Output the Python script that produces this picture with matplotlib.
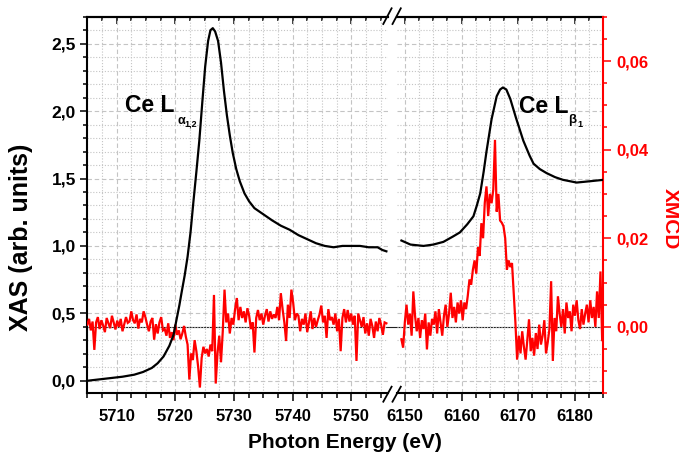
import numpy as np
import matplotlib
matplotlib.use("Agg")
import matplotlib.pyplot as plt
from matplotlib.ticker import MultipleLocator, FuncFormatter
from matplotlib.lines import Line2D

plt.rcParams['font.family'] = ['Liberation Sans', 'DejaVu Sans']
plt.rcParams['font.weight'] = 'bold'

# ---------------- data ----------------
# XAS, Ce L-alpha(1,2) region
xas_la_energy = [5705, 5707, 5709, 5711, 5713, 5714.5, 5716, 5717, 5718, 5719,
                 5719.7, 5720.2, 5720.7, 5721.1, 5721.6, 5722.1, 5722.6, 5723.1, 5723.6, 5724.1,
                 5724.6, 5725.1, 5725.6, 5726.0, 5726.4, 5726.8, 5727.3, 5727.8, 5728.3, 5728.8,
                 5729.3, 5729.8, 5730.4, 5731.0, 5731.8, 5732.6, 5733.5, 5734.5, 5735.5, 5736.5,
                 5738.0, 5739.5, 5741.0, 5742.5, 5744.0, 5745.5, 5747.0, 5748.5, 5750.0, 5751.5,
                 5753.0, 5754.5, 5755.3, 5756.0]
xas_la_value = [0.00, 0.01, 0.02, 0.03, 0.045, 0.065, 0.095, 0.13, 0.18, 0.26,
                0.34, 0.45, 0.56, 0.66, 0.78, 0.92, 1.10, 1.33, 1.55, 1.78,
                2.06, 2.33, 2.52, 2.60, 2.615, 2.59, 2.52, 2.36, 2.15, 1.97,
                1.82, 1.69, 1.57, 1.48, 1.39, 1.33, 1.28, 1.25, 1.22, 1.19,
                1.15, 1.12, 1.08, 1.05, 1.02, 1.00, 0.99, 1.00, 1.00, 1.00,
                0.99, 0.99, 0.97, 0.96]

# XAS, Ce L-beta(1) region
xas_lb_energy = [6149.4, 6151.0, 6153.3, 6155.0, 6156.8, 6158.5, 6159.7, 6161.0, 6162.1, 6162.7,
                 6163.3, 6163.9, 6164.4, 6165.3, 6166.2, 6166.8, 6167.3, 6167.9, 6168.6, 6169.6,
                 6170.9, 6172.0, 6172.7, 6173.8, 6175.0, 6176.5, 6177.9, 6180.3, 6182.7, 6185.0]
xas_lb_value = [1.04, 1.01, 1.00, 1.01, 1.03, 1.07, 1.10, 1.16, 1.22, 1.30,
                1.39, 1.55, 1.70, 1.94, 2.11, 2.16, 2.175, 2.16, 2.09, 1.95,
                1.78, 1.67, 1.61, 1.57, 1.54, 1.51, 1.49, 1.47, 1.48, 1.49]

# XMCD, sampled every 0.3 eV, values in units of 1e-4
xmcd_step = 0.3
xmcd_la_start = 5705.0
xmcd_la_1e4 = [5, 18, -8, 12, -52, 10, 22, -5, 15, 3, -12, 20, 8, -3, 25, 10, -6, 14, 0, 18, -10, 6, 22, 9,
               12, 35, 15, 8, 28, -4, 18, 10, 35, 22, 5, -10, 12, 20, -29, 6, -15, 10, 22, -8,
               -5, -20, 8, -25, -12, -30, 5, -18, -8, -28, -15, 2, -22,
               -40, -119, -60, -75, -30, -55, -90, -137, -70,
               -45, -60, -50, -67, -40, -55, 72, -128,
               -60, -20, -80, -10, 84, 10, 30, -15, 20, 5,
               40, 65, 15, 45, 20, 35, 10, 42, 25, -5,
               10, -58, 20, 38, 15, 30, 5, 25, 40, 12, 35, 18, 28,
               20, 45, 15, 76, 40, 10, -32, 50, 20, 84, 55, 15, 30,
               25, -10, 18, 5, 30, -12, 10, 35, -5, 20, 0, 15, 28,
               48, 10, 25, -25, 40, 15, 22, 5, 30, -10, 18, -55, 20,
               40, 10, 38, 12, 30, 5, 25, -77, 30, 15, 0, 22, -15, 8, -20, 18, 2, -25, 12, -10,
               20, 5, -18, 10, 8]
xmcd_lb_start = 6149.4
xmcd_lb_1e4 = [-28, -47, 10, 50, 5, 30, -20, 80, 25,
               -10, 20, -25, 15, -5, 30, -51, 10, -20, 18,
               5, 35, -15, 40, 10, -20, 25, 50, 0, 30,
               77, 20, 45, 10, 55, 30, 60, 15, 55, 40,
               70, 107, 95, 129, 150, 120, 180, 160, 234, 200,
               280, 317, 250, 300, 279, 310, 422, 260, 300, 240,
               235, 227, 200, 129, 150, 135, 144, 77, 10, -74,
               -20, -60, -10, -45, -74, -30, 17, -55, -25, -65,
               -14, -50, 5, -40, -20, 15, -60, -35, -5, 103,
               -77, 20, -10, 69, 30, 0, 40, -15, 55, 20,
               35, -10, 50, 25, 60, 15, -5, 40, 5, 30,
               50, 10, 60, 20, 45, 0, 80, 20, 125, -30]

x_range_left = (5705.0, 5756.19)
x_range_right = (6148.55, 6185.0)
xas_range = (-0.093, 2.70)
xmcd_range = (-0.015, 0.07)

xmcd_la_energy = xmcd_la_start + xmcd_step * np.arange(len(xmcd_la_1e4))
xmcd_lb_energy = xmcd_lb_start + xmcd_step * np.arange(len(xmcd_lb_1e4))
xmcd_la = np.array(xmcd_la_1e4) * 1e-4
xmcd_lb = np.array(xmcd_lb_1e4) * 1e-4

# ---------------- layout ----------------
W, H = 679, 459
fig = plt.figure(figsize=(W / 100, H / 100), dpi=100)
fig.patch.set_facecolor('white')


def fx(px):
    return px / W


def fy(py):
    return 1 - py / H


L, R, T, B = 87.3, 603.3, 16.7, 393.3
BRK1, BRK2 = 387.5, 396.6
RED = '#ff0000'
GRID = '#c4c4c4'
SPW = 1.5

ax1 = fig.add_axes([fx(L), fy(B), fx(BRK1 - L), (B - T) / H])
ax2 = fig.add_axes([fx(BRK2), fy(B), fx(R - BRK2), (B - T) / H])

comma1 = FuncFormatter(lambda v, p: f"{v:.1f}".replace('.', ','))
comma2 = FuncFormatter(lambda v, p: f"{v:.2f}".replace('.', ','))

# twins: red XMCD (middle layer) and black XAS (top layer)
ax1r = ax1.twinx()
ax1k = ax1.twinx()
ax2r = ax2.twinx()
ax2k = ax2.twinx()

for ax, xr in ((ax1, x_range_left), (ax2, x_range_right)):
    ax.set_xlim(*xr)
    ax.set_ylim(*xas_range)
    ax.patch.set_visible(False)
    ax.xaxis.set_major_locator(MultipleLocator(10))
    ax.xaxis.set_minor_locator(MultipleLocator(2.5))
    ax.yaxis.set_major_locator(MultipleLocator(0.5))
    ax.yaxis.set_minor_locator(MultipleLocator(0.1))
    ax.yaxis.set_major_formatter(comma1)
    ax.grid(which='major', color=GRID, ls=(0, (4, 2.5)), lw=0.8)
    ax.grid(which='minor', color=GRID, ls=(0, (1, 1.6)), lw=0.8)
    ax.tick_params(axis='x', which='major', direction='out', length=6, width=1.1,
                   labelsize=12, pad=5.5)
    ax.tick_params(axis='x', which='minor', direction='out', length=3.6, width=1.1)
    ax.tick_params(axis='y', which='major', direction='out', length=4.8, width=1.1,
                   labelsize=12.5, pad=3.5)
    ax.tick_params(axis='y', which='minor', direction='out', length=3.2, width=1.1)
    for s in ax.spines.values():
        s.set_linewidth(SPW)
    sec = ax.secondary_xaxis('top')
    sec.xaxis.set_major_locator(MultipleLocator(10))
    sec.xaxis.set_minor_locator(MultipleLocator(2.5))
    sec.tick_params(which='major', direction='in', length=5, width=1.1, labeltop=False)
    sec.tick_params(which='minor', direction='in', length=3.2, width=1.1)
    sec.spines['top'].set_linewidth(SPW)

ax1.spines['right'].set_visible(False)
ax1.tick_params(axis='y', which='both', right=False, labelright=False)
ax2.spines['left'].set_visible(False)
ax2.spines['right'].set_visible(False)
ax2.tick_params(axis='y', which='both', left=False, labelleft=False,
                right=False, labelright=False)

ax1r.set_ylim(*xmcd_range)
ax1r.axis('off')
ax1r.plot(xmcd_la_energy, xmcd_la, color=RED, lw=1.6, solid_joinstyle='miter')

ax2r.set_ylim(*xmcd_range)
for k in ('left', 'top', 'bottom'):
    ax2r.spines[k].set_visible(False)
ax2r.spines['right'].set_color(RED)
ax2r.spines['right'].set_linewidth(SPW)
ax2r.yaxis.set_major_locator(MultipleLocator(0.02))
ax2r.yaxis.set_minor_locator(MultipleLocator(0.005))
ax2r.yaxis.set_major_formatter(comma2)
ax2r.tick_params(axis='y', which='major', direction='out', length=6, width=1.1,
                 colors=RED, labelsize=12, pad=3.5)
ax2r.tick_params(axis='y', which='minor', direction='out', length=3, width=1.1, colors=RED)
ax2r.plot(xmcd_lb_energy, xmcd_lb, color=RED, lw=1.6, solid_joinstyle='miter')

ax1k.set_ylim(*xas_range)
ax1k.axis('off')
ax1k.plot(xas_la_energy, xas_la_value, color='black', lw=1.6)

ax2k.set_ylim(*xas_range)
ax2k.axis('off')
ax2k.plot(xas_lb_energy, xas_lb_value, color='black', lw=1.6)

# XMCD zero line across the whole frame
y0 = ax2r.transData.transform((6160, 0.0))[1] / fig.dpi / fig.get_figheight()
fig.add_artist(Line2D([fx(L), fx(R)], [y0, y0], transform=fig.transFigure,
                      color='#202020', lw=0.8, zorder=-1))

# axis break marks
for (ya, yb) in ((401.7, 386.7), (24.0, 8.3)):
    for xa in (383.3, 392.5):
        fig.add_artist(Line2D([fx(xa), fx(xa + 8.3)], [fy(ya), fy(yb)],
                              transform=fig.transFigure, color='black', lw=1.3))

# axis titles
fig.text(fx(21), fy(237), 'XAS (arb. units)', rotation=90, ha='center', va='center',
         fontsize=18, fontweight='bold')
fig.text(fx(345), fy(443), 'Photon Energy (eV)', ha='center', va='center',
         fontsize=15, fontweight='bold')
fig.text(fx(670), fy(219), 'XMCD', rotation=270, ha='center', va='center',
         fontsize=15, fontweight='bold', color=RED)

# peak annotations
fig.text(fx(125), fy(112), 'Ce L', ha='left', va='baseline', fontsize=16.5, fontweight='bold')
fig.text(fx(177), fy(124), 'α', ha='left', va='baseline', fontsize=9, fontweight='bold')
fig.text(fx(184.5), fy(126), '1,2', ha='left', va='baseline', fontsize=6.5, fontweight='bold')
fig.text(fx(519), fy(113), 'Ce L', ha='left', va='baseline', fontsize=16.5, fontweight='bold')
fig.text(fx(568), fy(123.5), 'β', ha='left', va='baseline', fontsize=9.5, fontweight='bold')
fig.text(fx(577.5), fy(127), '1', ha='left', va='baseline', fontsize=6.5, fontweight='bold')

fig.savefig('out.png', dpi=100)
